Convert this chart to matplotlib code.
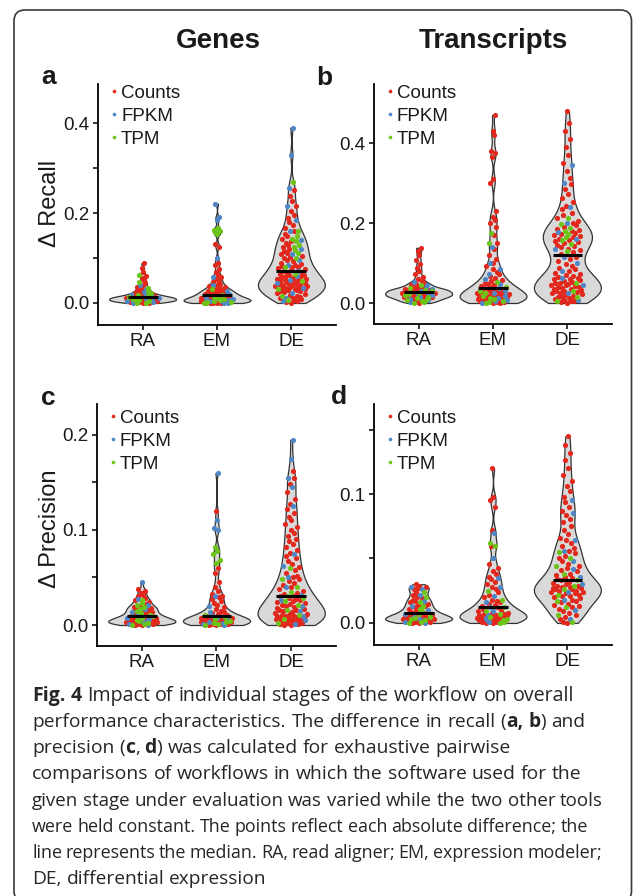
import re
import numpy as np
import matplotlib
matplotlib.use('Agg')
import matplotlib.pyplot as plt
from matplotlib.patches import FancyBboxPatch
from matplotlib.lines import Line2D

# values are absolute differences, written in thousandths (x 0.001)
groups = ['RA', 'EM', 'DE']
methods = ['Counts', 'FPKM', 'TPM']
colors = ['#e2281d', '#4f86c6', '#6cc417']

# --- a: genes, recall ---
a_ra_counts = [0, 1, 2, 3, 3, 4, 5, 5, 6, 7, 7, 8, 8, 9, 9, 10, 10, 11, 11, 12, 12, 13, 13, 14, 14, 15, 16, 17, 18,
               19, 20, 22, 24, 26, 29, 32, 36, 40, 45, 50, 55, 61, 68, 77, 88]
a_ra_fpkm = [1, 2, 4, 5, 7, 8, 10, 12, 14, 17, 20, 25, 31, 40]
a_ra_tpm = [0, 1, 3, 4, 6, 7, 9, 11, 13, 15, 18, 22, 27, 34, 47, 62]
a_em_counts = [0, 0, 1, 1, 2, 2, 3, 3, 4, 4, 5, 5, 6, 6, 7, 8, 9, 10, 11, 12, 13, 14, 15, 16, 17, 18, 19, 20, 21,
               22, 23, 24, 25, 26, 27, 28, 29, 30, 32, 34, 36, 38, 40, 43, 46, 49, 53, 57, 62, 68, 76, 85, 90, 124, 131]
a_em_fpkm = [0, 1, 2, 4, 5, 7, 9, 12, 15, 19, 26, 40, 58, 100, 184, 191, 221]
a_em_tpm = [0, 1, 2, 3, 5, 6, 8, 10, 13, 18, 30, 154, 157, 160, 162, 166]
a_de_counts = [0, 2, 4, 6, 8, 10, 12, 14, 16, 18, 20, 22, 24, 26, 27, 28, 29, 30, 32, 33, 34, 35, 36, 37, 38, 39,
               40, 41, 42, 43, 44, 45, 47, 48, 50, 51, 53, 54, 56, 57, 59, 60, 62, 63, 65, 67, 69, 71, 73, 75, 77,
               79, 81, 83, 85, 87, 90, 93, 96, 99, 102, 105, 108, 112, 116, 120, 124, 128, 133, 138, 143, 148,
               154, 160, 166, 173, 180, 188, 196, 205, 215, 226, 238, 252]
a_de_fpkm = [4, 12, 22, 33, 45, 52, 60, 72, 85, 96, 108, 120, 140, 160, 185, 215, 255, 330, 390]
a_de_tpm = [6, 15, 30, 48, 65, 80, 100, 112, 118, 124, 130, 137, 143, 150, 160, 270]

# --- b: transcripts, recall ---
b_ra_counts = [0, 5, 8, 10, 12, 14, 15, 16, 17, 18, 19, 20, 21, 22, 23, 24, 25, 26, 27, 28, 29, 30, 31, 32, 33, 34,
               35, 36, 38, 40, 42, 45, 48, 51, 55, 60, 65, 72, 80, 88, 97, 108, 120, 130, 138]
b_ra_fpkm = [3, 7, 11, 15, 19, 23, 26, 30, 34, 38, 44, 52]
b_ra_tpm = [0, 2, 4, 7, 10, 13, 16, 19, 22, 25, 29, 33, 38, 46]
b_em_counts = [0, 1, 2, 3, 4, 5, 6, 7, 8, 9, 10, 11, 12, 14, 15, 17, 18, 20, 21, 23, 24, 26, 27, 29, 30, 32, 34, 36,
               38, 40, 42, 45, 48, 51, 54, 58, 62, 67, 72, 78, 85, 92, 100, 110, 120, 135, 150, 170, 190, 200,
               208, 215, 230, 300, 310, 365, 375, 380, 420, 430, 470]
b_em_fpkm = [1, 4, 8, 12, 18, 24, 30, 38, 48, 60, 72, 85, 100, 140]
b_em_tpm = [0, 2, 5, 9, 13, 18, 24, 30, 40, 52, 150, 175]
b_de_counts = [0, 2, 4, 6, 8, 10, 12, 14, 16, 18, 20, 22, 24, 26, 28, 30, 31, 33, 35, 36, 38, 40, 41, 43, 45, 46,
               48, 50, 51, 53, 55, 57, 59, 61, 63, 65, 67, 70, 73, 76, 80, 84, 88, 93, 98, 104, 110, 116, 122,
               127, 132, 136, 140, 143, 146, 149, 152, 155, 158, 161, 164, 167, 170, 173, 176, 179, 182, 186,
               190, 195, 200, 206, 212, 219, 226, 234, 243, 252, 262, 273, 285, 298, 312, 330, 350, 370, 390,
               410, 430, 450, 480]
b_de_fpkm = [8, 25, 45, 62, 80, 100, 115, 135, 160, 178, 200, 240, 300, 345]
b_de_tpm = [5, 15, 30, 50, 130, 148, 158, 166, 172, 180, 188, 198, 212]

# --- c: genes, precision ---
c_ra_counts = [0, 0, 1, 1, 1, 2, 2, 2, 3, 3, 3, 4, 4, 4, 5, 5, 5, 6, 6, 7, 7, 8, 8, 9, 9, 10, 11, 12, 13, 14, 15,
               16, 17, 18, 19, 20, 22, 24, 26, 28, 30, 32, 34, 36, 38]
c_ra_fpkm = [0, 1, 3, 4, 6, 7, 9, 11, 14, 17, 21, 27, 45]
c_ra_tpm = [0, 1, 2, 4, 5, 7, 9, 11, 13, 15, 17, 19, 21, 23, 26]
c_em_counts = [0, 0, 1, 1, 1, 2, 2, 2, 3, 3, 3, 4, 4, 4, 5, 5, 5, 6, 6, 7, 7, 8, 9, 10, 11, 12, 13, 14, 15, 17, 19,
               21, 23, 25, 27, 29, 31, 33, 36, 40, 45, 55, 60, 120]
c_em_fpkm = [0, 1, 2, 3, 5, 7, 10, 14, 20, 30, 100, 102, 110, 160]
c_em_tpm = [0, 1, 2, 3, 4, 6, 8, 11, 65, 68, 75, 78, 82]
c_de_counts = [0, 0, 1, 1, 2, 2, 3, 3, 4, 4, 5, 5, 6, 6, 7, 7, 8, 8, 9, 9, 10, 10, 11, 12, 12, 13, 14, 15, 16, 16,
               17, 18, 19, 20, 21, 22, 23, 24, 25, 26, 27, 28, 30, 31, 33, 34, 36, 38, 40, 42, 44, 46, 48, 50, 52,
               55, 58, 61, 64, 67, 70, 73, 76, 79, 82, 85, 88, 91, 94, 97, 100, 103, 106, 110, 114, 118, 122, 127,
               133, 140, 148, 155, 162]
c_de_fpkm = [1, 5, 10, 15, 20, 26, 32, 40, 50, 62, 75, 125, 145, 155, 175, 195]
c_de_tpm = [2, 6, 11, 16, 21, 25, 28, 31, 35, 40, 48, 60]

# --- d: transcripts, precision ---
d_ra_counts = [0, 0, 1, 1, 1, 2, 2, 2, 3, 3, 3, 4, 4, 4, 5, 5, 5, 6, 6, 7, 7, 8, 8, 9, 10, 11, 12, 13, 14, 15, 16,
               17, 18, 19, 20, 22, 24, 26, 27, 28, 29, 30]
d_ra_fpkm = [0, 1, 3, 5, 7, 10, 13, 17, 22, 26, 28]
d_ra_tpm = [0, 1, 2, 3, 4, 5, 7, 9, 11, 13, 16, 20, 24]
d_em_counts = [0, 0, 1, 1, 2, 2, 3, 3, 3, 4, 4, 5, 5, 5, 6, 6, 6, 7, 7, 8, 8, 9, 10, 11, 12, 13, 14, 15, 16, 17, 18,
               20, 22, 24, 26, 28, 30, 32, 34, 36, 38, 40, 43, 46, 60, 72, 90, 95, 98, 120]
d_em_fpkm = [1, 2, 4, 6, 9, 12, 16, 21, 28, 35, 50, 70]
d_em_tpm = [0, 1, 2, 3, 5, 7, 9, 12, 18, 25, 60, 62]
d_de_counts = [0, 1, 3, 5, 6, 8, 9, 11, 12, 13, 14, 15, 16, 17, 18, 19, 20, 21, 21, 22, 23, 23, 24, 24, 25, 25, 26,
               26, 27, 27, 28, 28, 29, 29, 30, 31, 32, 33, 34, 35, 36, 37, 38, 40, 41, 43, 44, 46, 48, 50, 52, 54,
               56, 58, 60, 62, 64, 66, 69, 72, 75, 78, 81, 84, 87, 90, 94, 98, 102, 106, 110, 115, 120, 126, 132,
               138, 145]
d_de_fpkm = [3, 10, 18, 24, 30, 36, 42, 48, 56, 64, 85, 95]
d_de_tpm = [1, 6, 12, 17, 22, 26, 29, 33, 38, 44, 50, 55]

panel_data = {
    'a': [[a_ra_counts, a_ra_fpkm, a_ra_tpm], [a_em_counts, a_em_fpkm, a_em_tpm], [a_de_counts, a_de_fpkm, a_de_tpm]],
    'b': [[b_ra_counts, b_ra_fpkm, b_ra_tpm], [b_em_counts, b_em_fpkm, b_em_tpm], [b_de_counts, b_de_fpkm, b_de_tpm]],
    'c': [[c_ra_counts, c_ra_fpkm, c_ra_tpm], [c_em_counts, c_em_fpkm, c_em_tpm], [c_de_counts, c_de_fpkm, c_de_tpm]],
    'd': [[d_ra_counts, d_ra_fpkm, d_ra_tpm], [d_em_counts, d_em_fpkm, d_em_tpm], [d_de_counts, d_de_fpkm, d_de_tpm]],
}

W, H = 633, 896
FONT = 'Liberation Sans'
plt.rcParams['font.family'] = [FONT, 'DejaVu Sans']

fig = plt.figure(figsize=(W / 100, H / 100), dpi=100)


def px(x, y):
    return x / W, 1 - y / H


def rect(l, r, t, b):
    return [l / W, 1 - b / H, (r - l) / W, (b - t) / H]


# panel layout: box in pixels, y limits, ticks, labelled ticks
panels = {
    'a': dict(box=(98, 336, 84, 325), ylim=(-0.049, 0.487), ticks=[0, .1, .2, .3, .4], labels=['0.0', '', '0.2', '', '0.4']),
    'b': dict(box=(374, 612, 84, 324), ylim=(-0.0525, 0.5475), ticks=[0, .2, .4], labels=['0.0', '0.2', '0.4']),
    'c': dict(box=(97, 336, 404, 646), ylim=(-0.0221, 0.2326), ticks=[0, .05, .1, .15, .2], labels=['0.0', '', '0.1', '', '0.2']),
    'd': dict(box=(374, 612, 404, 645), ylim=(-0.0171, 0.1698), ticks=[0, .05, .1, .15], labels=['0.0', '', '0.1', '']),
}


def vdc(n):
    v, den = 0.0, 1.0
    while n:
        den *= 2
        n, r = divmod(n, 2)
        v += r / den
    return v


def bw_factor(y):
    sd = np.std(y, ddof=1)
    q75, q25 = np.percentile(y, [75, 25])
    lo = min(sd, (q75 - q25) / 1.34) if q75 > q25 else sd
    return 0.65 * 0.9 * lo * len(y) ** -0.2 / sd


for key, cfg in panels.items():
    ax = fig.add_axes(rect(*cfg['box']))
    for gi, parts in enumerate(panel_data[key]):
        pos = gi + 1
        vals = [np.array(p, dtype=float) / 1000 for p in parts]
        ally = np.concatenate(vals)
        f = bw_factor(ally)
        vp = ax.violinplot([ally], positions=[pos], widths=0.9, showextrema=False,
                           bw_method=f, points=300)
        for body in vp['bodies']:
            body.set_facecolor('#d9d9d9')
            body.set_edgecolor('#333333')
            body.set_linewidth(0.9)
            body.set_alpha(1)
            body.set_zorder(1)
        # quasirandom horizontal spread following the density
        bw = f * np.std(ally, ddof=1)
        dens = np.exp(-0.5 * ((ally[:, None] - ally[None, :]) / bw) ** 2).sum(axis=1)
        dens = dens / dens.max()
        order = np.argsort(ally, kind='stable')
        u = np.empty(len(ally))
        for rank, idx in enumerate(order):
            u[idx] = 2 * vdc(rank + 1) - 1
        xj = pos + 0.23 * dens ** 0.6 * u
        start = 0
        for mi, v in enumerate(vals):
            sl = slice(start, start + len(v))
            ax.scatter(xj[sl], ally[sl], s=14, color=colors[mi], linewidths=0, zorder=2 + mi)
            start += len(v)
        ax.hlines(np.median(ally), pos - 0.2, pos + 0.2, color='black', lw=2.2, zorder=6)
    ax.set_xlim(0.4, 3.6)
    ax.set_ylim(*cfg['ylim'])
    ax.set_xticks([1, 2, 3])
    ax.set_xticklabels(groups)
    ax.set_yticks(cfg['ticks'])
    ax.set_yticklabels(cfg['labels'])
    for s in ['top', 'right']:
        ax.spines[s].set_visible(False)
    for s in ['left', 'bottom']:
        ax.spines[s].set_linewidth(1.3)
        ax.spines[s].set_color('black')
    ax.tick_params(length=3.5, width=1.1, labelsize=13.5, pad=2.5, colors='black', labelcolor='#1a1a1a')
    ax.set_facecolor('none')

    # legend drawn as dots + labels
    l, r, t, b = cfg['box']
    dot_x = l + 15.5
    base_y = 98 if key in 'ab' else 423
    for mi, m in enumerate(methods):
        yb = base_y + 23 * mi
        fig.add_artist(Line2D([px(dot_x, 0)[0]], [px(0, yb - 6.5)[1]], marker='o', ms=2.6,
                              color=colors[mi], mew=0, transform=fig.transFigure))
        fig.text(*px(dot_x + 7.5, yb), m, fontsize=13.5, va='baseline', ha='left', color='#1a1a1a')

# titles, panel letters, axis labels
fig.text(*px(218, 48), 'Genes', fontsize=20, fontweight='bold', ha='center', va='baseline', color='#1a1a1a')
fig.text(*px(493, 48), 'Transcripts', fontsize=20, fontweight='bold', ha='center', va='baseline', color='#1a1a1a')
for letter, (lx, ly) in {'a': (41, 84), 'b': (316, 85), 'c': (41, 405), 'd': (331, 404)}.items():
    fig.text(*px(lx, ly), letter, fontsize=19, fontweight='bold', ha='left', va='baseline', color='#1a1a1a')
fig.text(*px(50, 203), 'Δ Recall', fontsize=17, rotation=90, ha='center', va='center', color='#1a1a1a')
fig.text(*px(50, 529), 'Δ Precision', fontsize=17, rotation=90, ha='center', va='center', color='#1a1a1a')

# outer rounded frame
frame = FancyBboxPatch((14, -6), 617.5, 892, boxstyle='round,pad=0,rounding_size=11',
                       fc='none', ec='#3a3a3a', lw=1.2, transform=None)
fig.add_artist(frame)

# caption with bold runs
CAP_FONT = ['Open Sans', 'DejaVu Sans']
CAP_COLOR = '#262626'
renderer = fig.canvas.get_renderer()


def text_width(s, size, bold):
    t = fig.text(0, 0, s, fontsize=size, family=CAP_FONT, fontweight='bold' if bold else 'normal')
    w = t.get_window_extent(renderer).width
    t.remove()
    return w


def run_width(s, size, bold):
    return text_width('|' + s + '|', size, bold) - text_width('||', size, bold)


caption = [
    [('Fig. 4', True), (' Impact of individual stages of the workflow on overall', False)],
    [('performance characteristics. The difference in recall (', False), ('a, b', True), (') and', False)],
    [('precision (', False), ('c', True), (', ', False), ('d', True), (') was calculated for exhaustive pairwise', False)],
    [('comparisons of workflows in which the software used for the', False)],
    [('given stage under evaluation was varied while the two other tools', False)],
    [('were held constant. The points reflect each absolute difference; the', False)],
    [('line represents the median. RA, read aligner; EM, expression modeler;', False)],
    [('DE, differential expression', False)],
]
# right end of each caption line in the reference (None: ragged short line)
line_ends = [574, 585, 511, 581, 603, 588, 602, None]
CAP_X = 32


def tokens_of(runs):
    out = []
    for txt, bold in runs:
        for piece in re.split(r'( +)', txt):
            if piece:
                out.append((piece, bold))
    return out


def natural_width(toks, size):
    w = 0
    for piece, bold in toks:
        if piece.isspace():
            w += len(piece) * run_width(' ', size, bold)
        else:
            w += run_width(piece, size, bold)
    return w


fits = []
for runs, end in zip(caption, line_ends):
    if end:
        fits.append(10 * (end - CAP_X) / natural_width(tokens_of(runs), 10))
base_size = float(np.median(fits))

for li, (runs, end) in enumerate(zip(caption, line_ends)):
    toks = tokens_of(runs)
    size = base_size
    extra = 0.0
    if end:
        size = float(np.clip(10 * (end - CAP_X) / natural_width(toks, 10), base_size * 0.93, base_size * 1.07))
        nsp = sum(len(p) for p, _ in toks if p.isspace())
        extra = (end - CAP_X - natural_width(toks, size)) / max(nsp, 1)
    x = CAP_X
    y = 700.7 + 26.2 * li
    for piece, bold in toks:
        if piece.isspace():
            x += len(piece) * (run_width(' ', size, bold) + extra)
            continue
        fig.text(*px(x, y), piece, fontsize=size, family=CAP_FONT, color=CAP_COLOR,
                 fontweight='bold' if bold else 'normal', ha='left', va='baseline')
        x += run_width(piece, size, bold)

fig.savefig('out.png', dpi=100)
